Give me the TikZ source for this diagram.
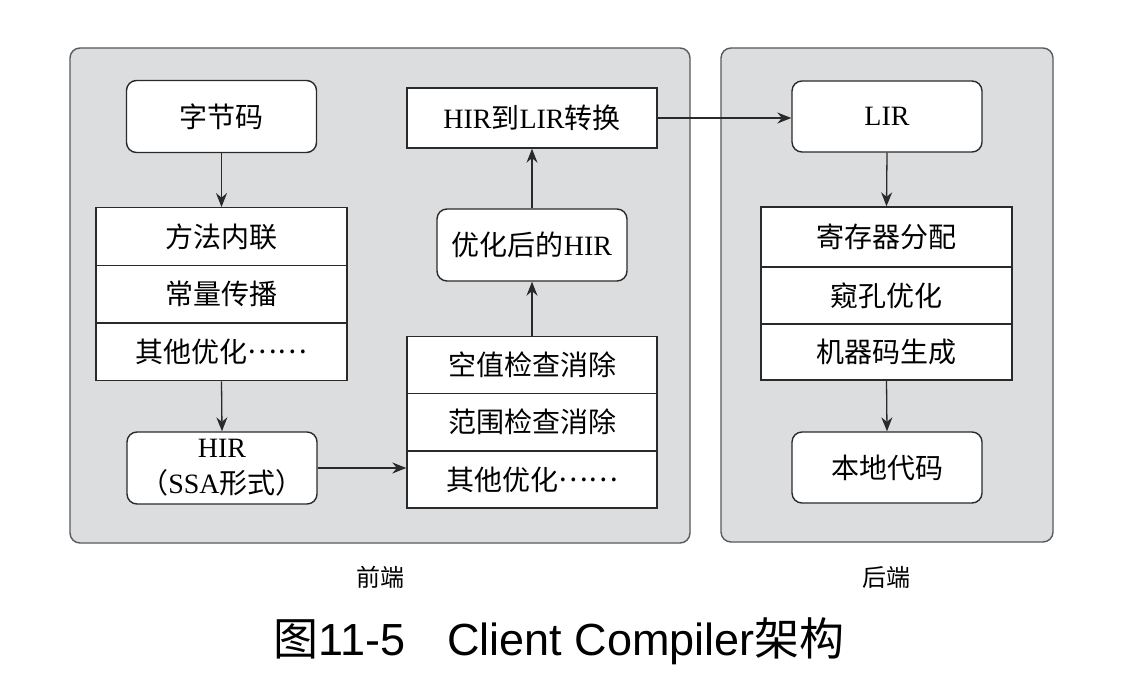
\documentclass[tikz,border=0pt]{standalone}
\usepackage{fontspec}
\setmainfont{Liberation Serif}
\newfontfamily\zhfont{Noto Sans CJK SC}
\newfontfamily\capfont{Liberation Sans}
\newcommand{\zh}[1]{{\zhfont #1}}
% centred ellipsis, as in Chinese typesetting
\newcommand{\zhdots}{\raisebox{0.32em}{\zhfont ……}}
\usetikzlibrary{arrows.meta}
\definecolor{panelfill}{HTML}{DCDDDF}
\definecolor{panelline}{HTML}{5A5A5A}
\definecolor{boxline}{HTML}{2A2A2A}
\begin{document}
\begin{tikzpicture}[x=1pt,y=-1pt,
  panel/.style={draw=panelline,line width=1.4pt,fill=panelfill,rounded corners=10pt,inner sep=0pt},
  roundbox/.style={draw=boxline,line width=1.4pt,fill=white,rounded corners=10pt,inner sep=0pt,
    minimum width=190pt,minimum height=72pt,font=\fontsize{28}{36}\selectfont,align=center},
  rowbox/.style={draw=boxline,line width=1.4pt,fill=white,inner sep=0pt,
    minimum width=251pt,minimum height=57.5pt,font=\fontsize{28}{32}\selectfont},
  flow/.style={draw=boxline,line width=1.3pt,-{Stealth[length=14pt,width=11pt]}},
  label/.style={font=\fontsize{24}{28}\selectfont\zhfont,inner sep=0pt}
]
\useasboundingbox[fill=white] (0,0) rectangle (1123,674);

% the two stages
\node[panel,minimum width=620pt,minimum height=495pt] (front) at (380,295.5) {};
\node[panel,minimum width=332pt,minimum height=494pt] (back) at (887,295) {};
\node[label] (frontlbl) at (380,577) {前端};
\node[label] (backlbl) at (886,577) {后端};

% front end, left column
\node[roundbox] (bytecode) at (221.5,116.5) {\zh{字节码}};
\node[rowbox] (inl) at (221.5,236.5) {\zh{方法内联}};
\node[rowbox] (cprop) at (221.5,294) {\zh{常量传播}};
\node[rowbox] (otherA) at (221.5,352) {\zh{其他优化}\zhdots};
\node[roundbox] (hir) at (222,468) {HIR\\\zh{（}SSA\zh{形式）}};

% front end, right column
\node[rowbox,minimum width=250pt,minimum height=57pt] (nullchk) at (532,365) {\zh{空值检查消除}};
\node[rowbox,minimum width=250pt,minimum height=57pt] (rangechk) at (532,422) {\zh{范围检查消除}};
\node[rowbox,minimum width=250pt,minimum height=57pt] (otherB) at (532,479.5) {\zh{其他优化}\zhdots};
\node[roundbox] (opthir) at (532,245) {\zh{优化后的}HIR};
\node[rowbox,minimum width=250pt,minimum height=60pt] (hir2lir) at (532,118) {HIR\zh{到}LIR\zh{转换}};

% back end
\node[roundbox,minimum height=71pt] (lir) at (887,116.5) {LIR};
\node[rowbox,minimum height=60pt] (regalloc) at (886.5,237) {\zh{寄存器分配}};
\node[rowbox,minimum height=57pt] (peephole) at (886.5,295.5) {\zh{窥孔优化}};
\node[rowbox,minimum height=56pt] (codegen) at (886.5,352) {\zh{机器码生成}};
\node[roundbox,minimum height=71pt] (native) at (887,467.5) {\zh{本地代码}};

% flow
\draw[flow] (bytecode.south) -- (inl.north);
\draw[flow] (otherA.south) -- (hir.north);
\draw[flow] (hir.east) -- (hir.east -| otherB.west);
\draw[flow] (nullchk.north) -- (opthir.south);
\draw[flow] (opthir.north) -- (hir2lir.south);
\draw[flow] (hir2lir.east) -- (hir2lir.east -| lir.west);
\draw[flow] (lir.south) -- (regalloc.north);
\draw[flow] (codegen.south) -- (native.north);

% caption
\node[inner sep=0pt,font=\fontsize{45}{50}\selectfont] (caption) at (559,641)
  {\zh{图}\capfont 11-5\hspace{42pt}Client Compiler\zh{架构}};
\end{tikzpicture}
\end{document}
